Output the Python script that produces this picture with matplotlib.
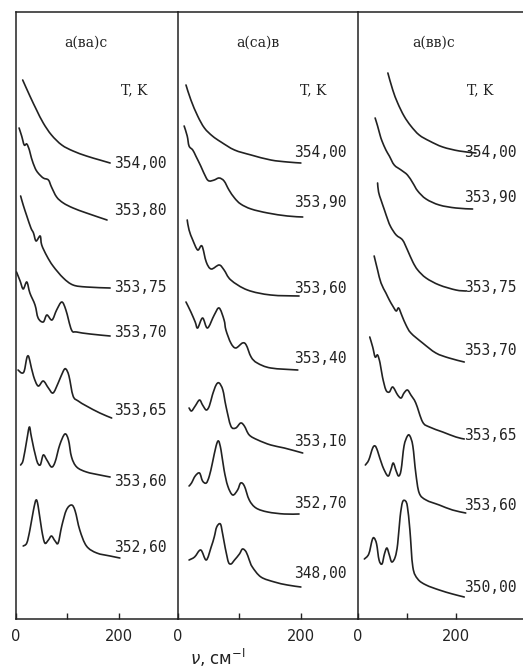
import matplotlib.pyplot as plt
from matplotlib.path import Path
from matplotlib.patches import PathPatch

# Low-frequency Raman spectra for three scattering geometries,
# stacked by temperature (K). nu in cm^-1, intensity in arbitrary
# units measured up from the tail of each trace.

geom = ['a(ва)с', 'a(ca)в', 'a(вв)с']

# ---- a(ва)с
t1 = ['354,00', '353,80', '353,75', '353,70', '353,65', '353,60', '352,60']
base1 = [456, 399, 331, 283, 201, 142, 61]
tpos1 = [456, 409, 332, 287, 209, 137, 71]
nu1 = [
    [13, 27, 40, 53, 69, 89, 111, 137, 163, 183],
    [6, 11, 16, 21, 26, 30, 37, 43, 53, 63, 69, 79, 92, 111, 137, 177],
    [9, 14, 21, 29, 34, 39, 47, 50, 60, 72, 92, 111, 137, 183],
    [1, 8, 14, 21, 27, 37, 43, 53, 60, 70, 79, 89, 97, 108, 118, 144, 183],
    [4, 11, 16, 21, 24, 27, 34, 43, 53, 63, 72, 82, 92, 97, 103, 111, 121, 137, 163, 186],
    [9, 14, 21, 26, 30, 40, 47, 53, 60, 69, 76, 85, 95, 102, 108, 118, 137, 163, 183],
    [14, 21, 27, 34, 39, 43, 50, 56, 63, 69, 76, 82, 89, 98, 108, 115, 124, 137, 157, 183, 202],
]
int1 = [
    [83, 67, 53, 40, 28, 18, 12, 7, 3, 0],
    [92, 84, 75, 76, 70, 62, 52, 47, 42, 40, 33, 23, 17, 12, 7, 0],
    [92, 83, 72, 60, 55, 47, 52, 43, 32, 22, 10, 3, 1, 0],
    [64, 55, 47, 54, 43, 31, 18, 14, 21, 16, 26, 34, 26, 6, 4, 2, 0],
    [48, 45, 47, 60, 62, 57, 42, 32, 37, 30, 25, 35, 47, 49, 42, 22, 17, 12, 5, 0],
    [12, 17, 37, 50, 40, 17, 12, 22, 17, 10, 15, 32, 43, 37, 20, 10, 5, 2, 0],
    [12, 15, 28, 48, 58, 52, 28, 15, 18, 22, 17, 15, 32, 48, 53, 47, 28, 12, 5, 2, 0],
]

# ---- a(ca)в
t2 = ['354,00', '353,90', '353,60', '353,40', '353,I0', '352,70', '348,00']
base2 = [456, 402, 323, 249, 166, 105, 32]
tpos2 = [467, 417, 331, 261, 177, 116, 46]
nu2 = [
    [13, 21, 32, 43, 56, 70, 92, 119, 151, 178, 200],
    [10, 15, 18, 24, 29, 37, 46, 51, 59, 67, 75, 83, 92, 102, 119, 146, 178, 203],
    [15, 18, 24, 32, 39, 46, 54, 67, 75, 86, 113, 151, 197],
    [13, 21, 28, 32, 40, 48, 59, 67, 75, 78, 86, 94, 105, 111, 119, 129, 151, 195],
    [18, 22, 28, 35, 40, 46, 51, 56, 62, 67, 73, 78, 86, 94, 102, 108, 116, 130, 151, 173, 203],
    [18, 22, 28, 35, 40, 46, 51, 56, 62, 66, 70, 75, 81, 89, 97, 102, 108, 116, 127, 146, 173, 197],
    [18, 27, 37, 46, 54, 59, 63, 69, 73, 81, 86, 92, 100, 105, 111, 116, 121, 135, 157, 178, 200],
]
int2 = [
    [78, 63, 47, 35, 27, 21, 13, 8, 3, 1, 0],
    [91, 81, 71, 67, 61, 51, 39, 36, 37, 39, 36, 27, 19, 13, 8, 4, 1, 0],
    [76, 66, 56, 46, 50, 34, 27, 31, 26, 16, 6, 1, 0],
    [68, 58, 48, 42, 52, 42, 55, 62, 50, 40, 27, 22, 27, 25, 13, 7, 2, 0],
    [45, 42, 47, 53, 48, 43, 47, 58, 68, 70, 63, 47, 27, 25, 30, 27, 18, 13, 8, 5, 0],
    [28, 31, 38, 41, 33, 31, 38, 51, 68, 73, 64, 44, 28, 19, 24, 31, 28, 14, 6, 2, 0, 0],
    [27, 30, 37, 27, 40, 50, 60, 63, 52, 27, 23, 27, 33, 38, 35, 27, 20, 10, 5, 2, 0],
]

# ---- a(вв)с
t3 = ['354,00', '353,90', '353,75', '353,70', '353,65', '353,60', '350,00']
base3 = [466, 410, 328, 257, 180, 106, 22]
tpos3 = [467, 422, 332, 269, 184, 114, 31]
nu3 = [
    [61, 71, 81, 94, 108, 125, 146, 173, 207, 241],
    [35, 40, 45, 49, 57, 64, 74, 88, 101, 112, 122, 139, 166, 200, 234],
    [40, 42, 47, 54, 61, 67, 78, 91, 101, 112, 122, 139, 166, 200, 220],
    [33, 40, 47, 57, 64, 71, 78, 83, 90, 98, 108, 132, 159, 186, 217],
    [24, 30, 35, 40, 45, 50, 57, 64, 71, 81, 88, 94, 101, 108, 118, 132, 146, 173, 200, 217],
    [15, 22, 30, 35, 40, 50, 61, 67, 72, 78, 83, 88, 94, 101, 106, 112, 118, 125, 139, 166, 193, 220],
    [13, 22, 29, 33, 38, 43, 49, 54, 59, 64, 69, 76, 81, 86, 91, 97, 101, 106, 112, 122, 139, 166, 193, 217],
]
int3 = [
    [80, 63, 50, 37, 27, 18, 12, 6, 2, 0],
    [91, 83, 74, 68, 59, 53, 44, 39, 34, 26, 18, 10, 4, 1, 0],
    [108, 99, 91, 81, 71, 64, 56, 51, 41, 29, 21, 13, 6, 1, 0],
    [106, 92, 79, 69, 62, 56, 51, 54, 46, 37, 29, 19, 9, 4, 0],
    [102, 92, 82, 84, 76, 62, 49, 47, 52, 44, 41, 46, 49, 44, 36, 17, 12, 7, 2, 0],
    [48, 53, 65, 67, 62, 47, 37, 43, 50, 42, 37, 43, 67, 77, 77, 67, 40, 20, 13, 8, 3, 0],
    [38, 43, 57, 59, 53, 37, 33, 43, 49, 42, 35, 40, 53, 80, 95, 96, 90, 67, 30, 18, 12, 7, 3, 0],
]

panels = [
    (t1, base1, tpos1, nu1, int1, 315, 190),
    (t2, base2, tpos2, nu2, int2, 293, 189),
    (t3, base3, tpos3, nu3, int3, 337, 216),
]

ink = '#222222'
W, H = 523, 671
rects = [(16, 162), (178, 180), (358, 165)]
head_x = [(0.432, 0.728), (0.444, 0.75), (0.46, 0.74)]


def trace_path(x, y):
    # pen-like trace through the read points (cubic segments, Catmull-Rom handles)
    verts = [(x[0], y[0])]
    codes = [Path.MOVETO]
    n = len(x)
    for i in range(n - 1):
        j0 = max(i - 1, 0)
        j3 = min(i + 2, n - 1)
        c1 = (x[i] + (x[i + 1] - x[j0]) / 6, y[i] + (y[i + 1] - y[j0]) / 6)
        c2 = (x[i + 1] - (x[j3] - x[i]) / 6, y[i + 1] - (y[j3] - y[i]) / 6)
        verts += [c1, c2, (x[i + 1], y[i + 1])]
        codes += [Path.CURVE4] * 3
    return Path(verts, codes)


fig = plt.figure(figsize=(W / 100, H / 100), dpi=100)

for k, (temps, base, tpos, nus, ints, xmax, lab_x) in enumerate(panels):
    x0, w = rects[k]
    ax = fig.add_axes([x0 / W, 52 / H, w / W, 607 / H])
    ax.set_xlim(0, xmax)
    ax.set_ylim(0, 607)
    for s in ax.spines.values():
        s.set_color(ink)
        s.set_linewidth(1.1)
    ax.spines['right'].set_visible(False)

    for t, b, ty, nu, I in zip(temps, base, tpos, nus, ints):
        y = [b + v for v in I]
        ax.add_patch(PathPatch(trace_path(nu, y), fill=False, ec=ink, lw=1.2,
                               capstyle='round', joinstyle='round'))
        ax.text(lab_x, ty, t, ha='left', va='center', fontsize=10.5,
                family='DejaVu Sans Mono', color=ink)

    ax.text(head_x[k][0], 0.949, geom[k], transform=ax.transAxes,
            ha='center', va='center', fontsize=10, family='DejaVu Serif', color=ink)
    ax.text(head_x[k][1], 0.871, 'T, K', transform=ax.transAxes,
            ha='center', va='center', fontsize=10, family='DejaVu Serif', color=ink)

    ax.set_yticks([])
    ax.set_xticks([0, 100, 200])
    ax.set_xticklabels(['0', '', '200'])
    ax.tick_params(axis='x', direction='in', length=4, width=1, color=ink,
                   labelsize=10.5, labelcolor=ink, pad=7)

fig.text(190 / W, 13 / H, r'$\nu$, см$^{-\mathrm{I}}$', ha='left', va='center',
         fontsize=12, color=ink)

fig.savefig('out.png', dpi=100)
